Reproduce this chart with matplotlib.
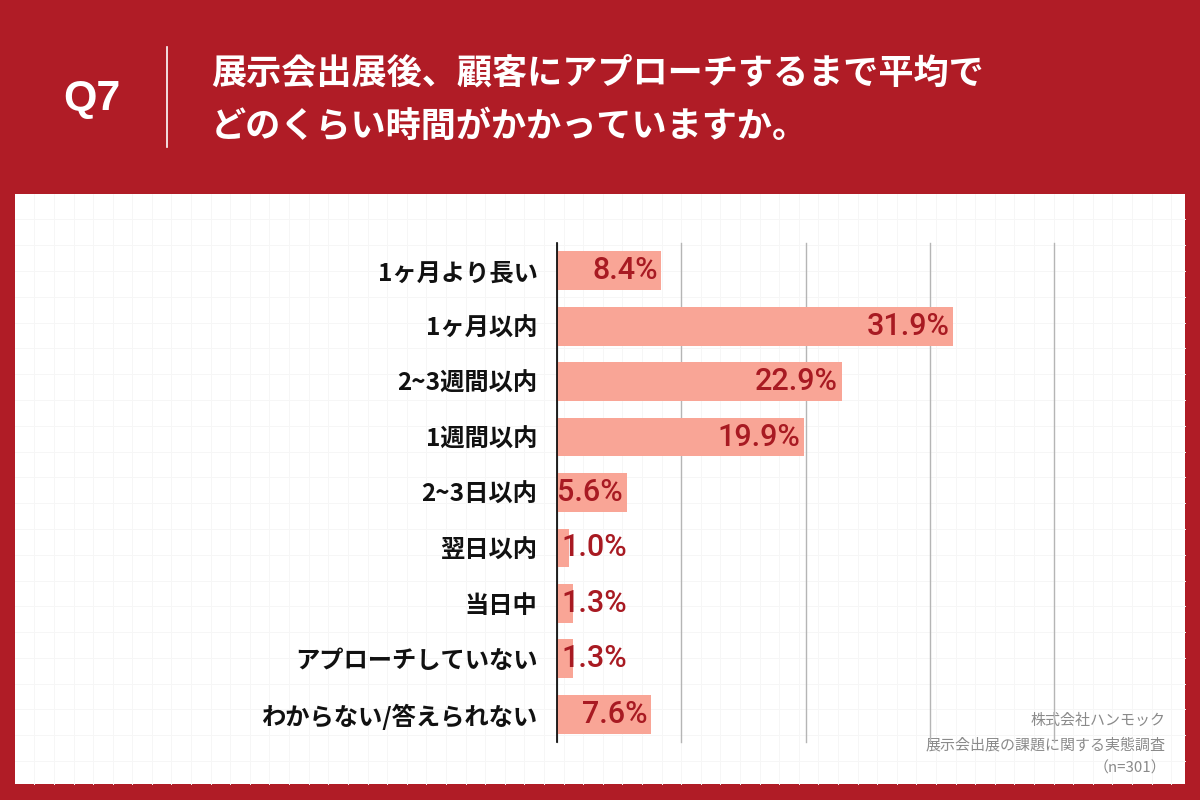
import matplotlib
matplotlib.use("Agg")
import matplotlib.pyplot as plt
from matplotlib.patches import Rectangle

plt.rcParams['font.family'] = ['Noto Sans CJK JP', 'DejaVu Sans']

# データ
categories = ["1ヶ月より長い", "1ヶ月以内", "2~3週間以内", "1週間以内", "2~3日以内",
              "翌日以内", "当日中", "アプローチしていない", "わからない/答えられない"]
values = [8.4, 31.9, 22.9, 19.9, 5.6, 1.0, 1.3, 1.3, 7.6]
value_labels = ["8.4%", "31.9%", "22.9%", "19.9%", "5.6%", "1.0%", "1.3%", "1.3%", "7.6%"]
x_ticks = [0, 10, 20, 30, 40]

title_lines = ["展示会出展後、顧客にアプローチするまで平均で", "どのくらい時間がかかっていますか。"]
source_lines = ["株式会社ハンモック", "展示会出展の課題に関する実態調査", "（n=301）"]

RED = "#B01C26"
BAR = "#F9A596"
VAL = "#A81A22"

W, H = 1200, 800
fig = plt.figure(figsize=(12, 8), dpi=100)
fig.patch.set_facecolor(RED)

# 背景用の軸（ピクセル座標）
bg = fig.add_axes([0, 0, 1, 1])
bg.set_xlim(0, W)
bg.set_ylim(H, 0)
bg.axis("off")

# 白いパネル
px0, py0, px1, py1 = 15, 194, 1185, 784
bg.add_patch(Rectangle((px0, py0), px1 - px0, py1 - py0, facecolor="white", edgecolor="none"))

# 方眼の薄い線
gx = 34.3
while gx < px1:
    bg.plot([gx, gx], [py0, py1], color="#f6f6f6", lw=0.7)
    gx += 19.6
gy = 219.3
while gy < py1:
    bg.plot([px0, px1], [gy, gy], color="#f6f6f6", lw=0.7)
    gy += 25.8

# ヘッダー
bg.text(92, 99, "Q7", color="white", fontsize=31, fontweight="bold",
        family=["Liberation Sans", "DejaVu Sans"], ha="center", va="center")
bg.plot([167, 167], [47, 147], color="white", lw=1.2)
bg.text(211, 73, title_lines[0], color="white", fontsize=25.3, fontweight="bold",
        ha="left", va="center")
bg.text(211, 126, title_lines[1], color="white", fontsize=25.3, fontweight="bold",
        ha="left", va="center")

# 出典
for txt, y in zip(source_lines, [721, 745, 768]):
    bg.text(1166, y, txt, color="#8a8a8a", fontsize=10.8, ha="right", va="center")

# 棒グラフ
ax_l, ax_r, ax_t, ax_b = 557, 1054, 243, 742
ax = fig.add_axes([ax_l / W, 1 - ax_b / H, (ax_r - ax_l) / W, (ax_b - ax_t) / H])
ax.patch.set_alpha(0)
ypos = list(range(len(categories)))
ax.barh(ypos, values, height=0.7, color=BAR, zorder=2)
ax.set_xlim(0, 40)
ax.set_ylim(len(categories) - 0.5, -0.5)
ax.set_xticks(x_ticks)
ax.xaxis.grid(True, color="#b5b5b5", lw=1.0, zorder=1)
for gl in ax.get_xgridlines():
    gl.set_clip_on(False)
ax.set_xticklabels([])
ax.tick_params(axis="both", length=0)
ax.set_yticks(ypos)
ax.set_yticklabels(categories, fontsize=17.5, fontweight="bold", color="#111111")
ax.tick_params(axis="y", pad=14)
for s in ["top", "right", "bottom"]:
    ax.spines[s].set_visible(False)
ax.spines["left"].set_color("black")
ax.spines["left"].set_linewidth(1.2)
ax.spines["left"].set_zorder(4)

val_font = ["Roboto", "Noto Sans CJK JP"]
for y, v, lab in zip(ypos, values, value_labels):
    if v >= 5:
        ax.text(v - 0.3, y, lab, color=VAL, fontsize=22, fontweight="medium",
                family=val_font, ha="right", va="center", zorder=3)
    else:
        ax.text(0.35, y, lab, color=VAL, fontsize=22, fontweight="medium",
                family=val_font, ha="left", va="center", zorder=3)

fig.savefig("out.png", dpi=100, facecolor=fig.get_facecolor())
